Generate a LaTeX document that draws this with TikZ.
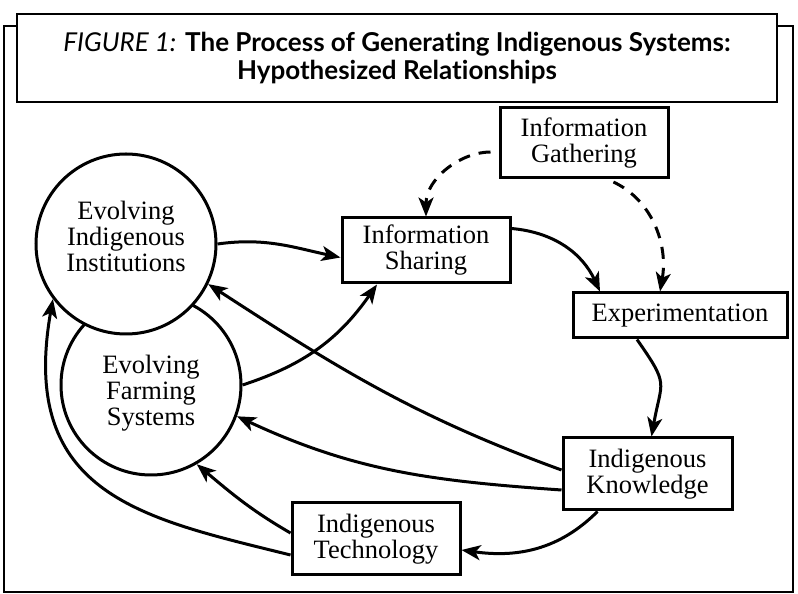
\documentclass[tikz,border=0pt]{standalone}
\usepackage{fontspec}
\setmainfont{Liberation Serif}
\newfontfamily\titlefont[Ligatures=NoCommon]{Lato}
\usepackage{tikz}
\usetikzlibrary{positioning}
\usetikzlibrary{arrows.meta}
\tikzset{
    process diagram/.style={
            x=1pt,y=1pt,line width=3pt,
            every node/.style={font=\fontsize{26.5}{26}\selectfont, align=center},
            box/.style={draw, rectangle, inner sep=0pt, fill=white},
            blob/.style={draw, circle, minimum size=180pt, inner sep=0pt, fill=white},
            arrow/.style={-{Stealth[length=19pt,width=15pt,inset=5pt]}},
            gathers/.style={arrow, dash pattern=on 12pt off 9pt}
        }
    }

\begin{document}
\begin{tikzpicture}[process diagram]
        \useasboundingbox (0,0) rectangle (798,594);
        \draw [line width=1.8pt] (4,2) rectangle (793,568);
        \node [box, line width=2.4pt, minimum width=760pt, minimum height=88pt, font=\titlefont\fontsize{26}{28}\selectfont] (T) at (397,536)
            {\textit{FIGURE 1:} \textbf{The Process of Generating Indigenous Systems:}\\ \textbf{Hypothesized Relationships}};

        \node [blob] (EF) at (151,209) {};
        \node (EFtext) at ([yshift=-8pt]EF.center) {Evolving\\Farming\\Systems};
        \node [blob] (EI) at (126,350) {};
        \node (EItext) at ([yshift=8pt]EI.center) {Evolving\\Indigenous\\Institutions};

        \node [box, minimum width=168pt, minimum height=65pt] (IS) at (426,343.5) {Information\\Sharing};
        \node [box, minimum width=168pt, minimum height=70pt] (IG) at (584,451) {Information\\Gathering};
        \node [box, minimum width=214pt, minimum height=45pt] (E) at (680,278.5) {Experimentation};
        \node [box, minimum width=169pt, minimum height=72pt] (IK) at (647.5,120) {Indigenous\\Knowledge};
        \node [box, minimum width=168pt, minimum height=72pt] (IT) at (376,55) {Indigenous\\Technology};

        \draw [arrow] (EI.0) to[out=8, in=168] ([yshift=-7pt]IS.west);
        \draw [arrow] (EF.east) to[out=18, in=-125] ([xshift=-49pt]IS.south);
        \draw [arrow] ([yshift=22pt]IS.east) to[out=-5, in=115] ([xshift=-80pt]E.north);
        \draw [gathers, shorten <=8pt] ([yshift=-9pt]IG.west) to[out=180, in=90] (IS.north);
        \draw [gathers, shorten <=6pt] ([xshift=24pt]IG.south) to[out=-25, in=80] ([xshift=-20pt]E.north);
        \draw [arrow] ([xshift=-43pt]E.south) to[out=-55, in=80, looseness=1.5] ([xshift=4pt]IK.north);
        \draw [arrow] ([yshift=4pt]IK.west) to[out=160, in=-33] (EI.-26);
        \draw [arrow] ([yshift=-16pt]IK.west) to[out=176, in=-25] (EF.-20);
        \draw [arrow] ([xshift=-50pt]IK.south) to[out=-135, in=-8] ([yshift=-11pt]IT.east);
        \draw [arrow] ([yshift=6pt]IT.west) to[out=150, in=-40] (EF.-60);
        \draw [arrow] ([yshift=-16pt]IT.west) to[out=166, in=-100, out distance=150pt, in distance=200pt] (EI.217);
    \end{tikzpicture}
\end{document}
